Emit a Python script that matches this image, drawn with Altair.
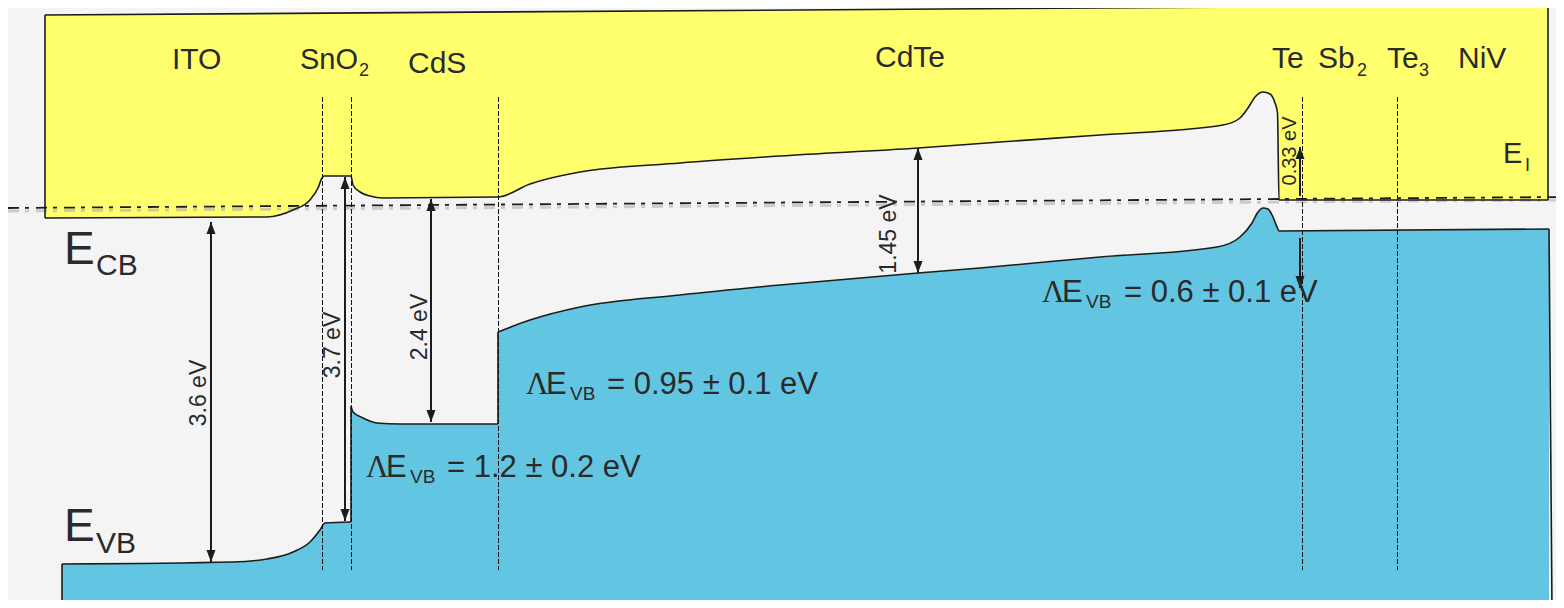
import altair as alt
import numpy as np
import pandas as pd

BG = "#f4f4f4"
YEL = "#ffff6e"
BLUE = "#62c6e3"
INK = "#1c1c1c"
TXT = "#2a2a2a"
FONT = "Liberation Sans"

# ---- conduction band edge (lower boundary of the yellow region), picture coords ----
cb_x = [45, 267, 293, 310, 318, 322, 324, 351, 353, 360, 370, 383, 498, 530, 580, 680, 780,
        918, 1000, 1100, 1223, 1240, 1248, 1255, 1263, 1270, 1275, 1277.5, 1279, 1548]
cb_y = [218, 217, 210, 200, 188, 178, 176, 176, 185, 192, 196, 198, 197, 184, 172, 163, 156,
        148, 142, 135, 125, 118, 108, 97, 92, 94, 103, 113, 200, 200]

# yellow frame top edge
ytop_x = [45, 1548]
ytop_y = [15, 5]

# ---- valence band edge (upper boundary of the blue region), three segments ----
vb1_x = [62, 233, 267, 293, 310, 320, 325, 351]
vb1_y = [564, 562, 559, 552, 542, 530, 523, 522]
vb2_x = [351, 353, 363, 377, 400, 498]
vb2_y = [406, 412, 418, 423, 424, 424]
vb3_x = [498, 530, 580, 680, 780, 918, 980, 1100, 1217, 1240, 1252, 1258, 1263, 1268, 1273,
         1277, 1279, 1549]
vb3_y = [332, 320, 307, 295, 285, 273, 268, 257, 247, 237, 223, 212, 208, 209, 217,
         227, 231, 229]
blue_bottom = 612

# ---- straight frame / step edges ----
edge_x1 = [45, 45, 1548, 351, 498, 62, 1549, 62]
edge_y1 = [15, 15, 5, 522, 424, 564, 229, 607]
edge_x2 = [1548, 45, 1548, 351, 498, 62, 1552, 1552]
edge_y2 = [5, 218, 200, 406, 332, 612, 612, 603]

# ---- interface (dashed) lines ----
iface_x = [322.5, 351.5, 498.5, 1302.5, 1397.5]
iface_top = 97
iface_bot = 570

# ---- Fermi level (dash-dot) ----
ef_x = [8, 1564]
ef_y = [208, 197]

# ---- arrows ----
arr_x = [211, 345, 431, 918, 1300, 1300]
arr_top = [222, 177, 199, 148, 147, 238]
arr_bot = [562, 521, 422, 273, 196, 288]
arr_head_up = [True, True, True, True, True, False]
arr_head_down = [True, True, True, True, False, True]

# ---- horizontal labels: text, left x, baseline y, font size ----
lab_t = ["ITO", "SnO", "2", "CdS", "CdTe", "Te", "Sb", "2", "Te", "3", "NiV",
         "E", "CB", "E", "VB", "E", "I",
         "E", "VB", "= 1.2 ± 0.2 eV",
         "E", "VB", "= 0.95 ± 0.1 eV",
         "E", "VB", "= 0.6 ± 0.1 eV"]
lab_x = [172, 300, 359, 408, 875, 1272, 1318, 1357, 1387, 1419, 1458,
         64, 96, 64, 96, 1503, 1525,
         386, 410, 447,
         546, 570, 607,
         1062, 1086, 1124]
lab_y = [69, 69, 76, 73, 67, 68, 68, 76, 68, 76, 68,
         264, 275, 541, 553, 163, 171,
         477, 483, 477,
         394, 400, 394,
         302, 308, 302]
lab_fs = [30, 29, 18, 30, 30, 30, 30, 18, 30, 18, 30,
          46, 30, 46, 30, 29, 18,
          31, 19, 31,
          31, 19, 31,
          31, 19, 31]

# serif Lambda symbols
lam_x = [366, 526, 1042]
lam_y = [477, 394, 302]

# ---- rotated gap labels: text, centre x, centre y, font size ----
rot_t = ["3.6 eV", "3.7 eV", "2.4 eV", "1.45 eV", "0.33 eV"]
rot_x = [199, 333, 420, 889, 1290]
rot_y = [393, 345, 327, 234, 151]
rot_fs = [23, 23, 23, 23, 20]

# ------------------------------------------------------------------
X_SCALE = alt.Scale(domain=[8, 1556], nice=False, zero=False)
Y_SCALE = alt.Scale(domain=[8, 600], reverse=True, nice=False, zero=False)


def X(f="x"):
    return alt.X(f + ":Q", scale=X_SCALE, axis=None)


def Y(f="y"):
    return alt.Y(f + ":Q", scale=Y_SCALE, axis=None, stack=None)


cb_df = pd.DataFrame({"x": cb_x, "y": cb_y,
                      "top": np.interp(cb_x, ytop_x, ytop_y)})
vb_df = pd.concat([
    pd.DataFrame({"x": vb1_x, "y": vb1_y, "seg": "a"}),
    pd.DataFrame({"x": vb2_x, "y": vb2_y, "seg": "b"}),
    pd.DataFrame({"x": vb3_x, "y": vb3_y, "seg": "c"}),
], ignore_index=True)
vb_df["bot"] = blue_bottom

edge_df = pd.DataFrame({"x": edge_x1, "y": edge_y1, "x2": edge_x2, "y2": edge_y2})
iface_df = pd.DataFrame({"x": iface_x, "y": iface_top, "y2": iface_bot})
ef_df = pd.DataFrame({"x": [ef_x[0]], "y": [ef_y[0]], "x2": [ef_x[1]], "y2": [ef_y[1]]})
ef_sh_df = ef_df.assign(y=ef_df["y"] + 3, y2=ef_df["y2"] + 3)
arr_df = pd.DataFrame({"x": arr_x, "y": arr_top, "y2": arr_bot})
up_df = pd.DataFrame({"x": [x for x, h in zip(arr_x, arr_head_up) if h],
                      "y": [y for y, h in zip(arr_top, arr_head_up) if h]})
dn_df = pd.DataFrame({"x": [x for x, h in zip(arr_x, arr_head_down) if h],
                      "y": [y for y, h in zip(arr_bot, arr_head_down) if h]})
lab_df = pd.DataFrame({"t": lab_t, "x": lab_x, "y": lab_y, "fs": lab_fs})
lam_df = pd.DataFrame({"t": ["Λ"] * len(lam_x), "x": lam_x, "y": lam_y})
rot_df = pd.DataFrame({"t": rot_t, "x": rot_x, "y": rot_y, "fs": rot_fs})

yellow = alt.Chart(cb_df).mark_area(color=YEL, interpolate="monotone", clip=True).encode(
    x=X(), y=Y(), y2="top:Q")
blue = alt.Chart(vb_df).mark_area(color=BLUE, interpolate="monotone", clip=True).encode(
    x=X(), y=Y(), y2="bot:Q", detail="seg:N")

cb_line = alt.Chart(cb_df).mark_line(color=INK, strokeWidth=1.6, interpolate="monotone",
                                     clip=True).encode(x=X(), y=Y())
vb_line = alt.Chart(vb_df).mark_line(color=INK, strokeWidth=1.6, interpolate="monotone",
                                     clip=True).encode(x=X(), y=Y(), detail="seg:N")
edges = alt.Chart(edge_df).mark_rule(color=INK, strokeWidth=1.6, clip=True).encode(
    x=X(), y=Y(), x2="x2:Q", y2="y2:Q")

iface = alt.Chart(iface_df).mark_rule(color="#111111", strokeWidth=1, strokeDash=[5, 2],
                                      clip=True).encode(x=X(), y=Y(), y2="y2:Q")

ef_shadow = alt.Chart(ef_sh_df).mark_rule(color="#b0b0b0", strokeWidth=3, opacity=0.6,
                                          strokeDash=[11, 6, 4, 7], clip=True).encode(
    x=X(), y=Y(), x2="x2:Q", y2="y2:Q")
ef = alt.Chart(ef_df).mark_rule(color=INK, strokeWidth=1.8, strokeDash=[11, 6, 4, 7],
                                clip=True).encode(x=X(), y=Y(), x2="x2:Q", y2="y2:Q")

shafts = alt.Chart(arr_df).mark_rule(color=INK, strokeWidth=2).encode(
    x=X(), y=Y(), y2="y2:Q")
heads_up = alt.Chart(up_df).mark_point(shape="M0,0L-0.75,2L0.75,2Z", filled=True, size=144,
                                       color=INK, opacity=1).encode(x=X(), y=Y())
heads_dn = alt.Chart(dn_df).mark_point(shape="M0,0L-0.75,-2L0.75,-2Z", filled=True, size=144,
                                       color=INK, opacity=1).encode(x=X(), y=Y())

labels = alt.Chart(lab_df).mark_text(align="left", baseline="alphabetic", font=FONT,
                                     color=TXT).encode(
    x=X(), y=Y(), text="t:N", size=alt.Size("fs:Q", scale=None))
lams = alt.Chart(lam_df).mark_text(align="left", baseline="alphabetic",
                                   font="Liberation Serif", fontSize=31, color=TXT).encode(
    x=X(), y=Y(), text="t:N")
rots = alt.Chart(rot_df).mark_text(align="center", baseline="middle", angle=270, font=FONT,
                                   color=TXT).encode(
    x=X(), y=Y(), text="t:N", size=alt.Size("fs:Q", scale=None))

chart = alt.layer(
    yellow, blue, ef_shadow, cb_line, vb_line, edges, iface, ef,
    shafts, heads_up, heads_dn, labels, lams, rots
).properties(
    width=1548, height=592, background=BG, padding=0,
    autosize=alt.AutoSizeParams(type="none")
).configure_view(stroke=None)

chart.save("out.html", embed_options={"renderer": "svg", "actions": False})
